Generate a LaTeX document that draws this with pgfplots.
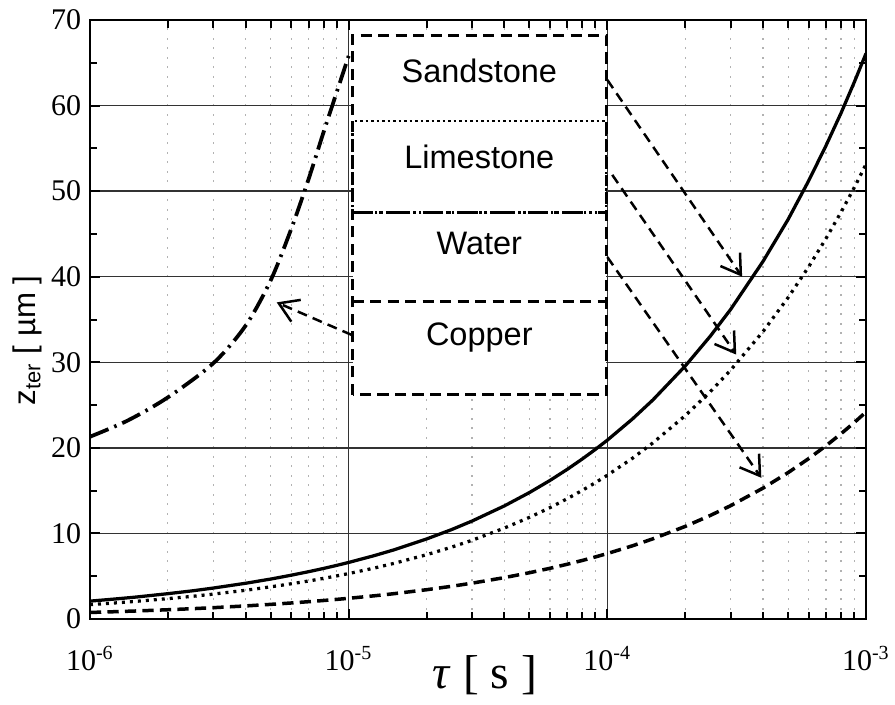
\documentclass[border=0pt]{standalone}
\usepackage{pgfplots}
\pgfplotsset{compat=1.18}
\usepackage{fontspec}
\setmainfont{Liberation Serif}
\setsansfont{Liberation Sans}
\usetikzlibrary{arrows.meta}

\begin{document}
\begin{tikzpicture}
\begin{axis}[
  scale only axis, width=310.4pt, height=239.6pt,
  xmode=log, xmin=1e-6, xmax=1e-3, ymin=0, ymax=70,
  xtick={1e-6,1e-5,1e-4,1e-3},
  xticklabels={10\textsuperscript{-6},10\textsuperscript{-5},10\textsuperscript{-4},10\textsuperscript{-3}},
  minor xtick={2e-6,3e-6,4e-6,5e-6,6e-6,7e-6,8e-6,9e-6,
               2e-5,3e-5,4e-5,5e-5,6e-5,7e-5,8e-5,9e-5,
               2e-4,3e-4,4e-4,5e-4,6e-4,7e-4,8e-4,9e-4},
  ytick={0,10,...,70}, minor ytick={5,15,...,65},
  tick align=inside, tick pos=both,
  major tick length=4pt, minor tick length=3pt,
  xmajorgrids, xminorgrids, ymajorgrids,
  major grid style={black!80, line width=0.55pt},
  minor grid style={gray!60, dash pattern=on 0.8pt off 3pt, line width=0.5pt},
  axis line style={line width=1pt},
  every tick/.style={black, line width=0.8pt},
  /pgf/number format/assume math mode=true,
  tick label style={font=\fontsize{12}{14}\selectfont},
  xticklabel style={yshift=-7.5pt},
  xlabel={\fontsize{19}{22}\selectfont\textit{τ} [ s ]},
  xlabel style={at={(axis description cs:0.509,-0.06)}, anchor=north, inner sep=0pt},
  ylabel={\sffamily\fontsize{12.5}{14}\selectfont z\textsubscript{ter} [ µm ]},
  ylabel style={at={(axis description cs:-0.0606,0.465)}, anchor=south, inner sep=0pt},
]

% Sandstone
\addplot[black, line width=1.3pt, line join=round] coordinates {
(1e-6,2.09) (1.25e-6,2.34) (1.5e-6,2.56) (2e-6,2.96) (2.5e-6,3.30) (3e-6,3.62) (4e-6,4.18) (5e-6,4.67) (6e-6,5.12) (7e-6,5.53) (8e-6,5.91) (9e-6,6.27)
(1e-5,6.61) (1.25e-5,7.39) (1.5e-5,8.09) (2e-5,9.35) (2.5e-5,10.45) (3e-5,11.45) (4e-5,13.22) (5e-5,14.78) (6e-5,16.19) (7e-5,17.49) (8e-5,18.70) (9e-5,19.83)
(1e-4,20.9) (1.25e-4,23.37) (1.5e-4,25.6) (2e-4,29.56) (2.5e-4,33.05) (3e-4,36.2) (4e-4,41.8) (5e-4,46.7) (6e-4,51.2) (7e-4,55.3) (8e-4,59.1) (9e-4,62.7)
(1e-3,66.09)
};

% Limestone
\addplot[black, line width=1.3pt, dash pattern=on 1.2pt off 2pt] coordinates {
(1e-6,1.68) (1.25e-6,1.878) (1.5e-6,2.06) (2e-6,2.38) (2.5e-6,2.656) (3e-6,2.91) (4e-6,3.36) (5e-6,3.76) (6e-6,4.12) (7e-6,4.44) (8e-6,4.75) (9e-6,5.04)
(1e-5,5.31) (1.25e-5,5.94) (1.5e-5,6.51) (2e-5,7.51) (2.5e-5,8.40) (3e-5,9.20) (4e-5,10.63) (5e-5,11.88) (6e-5,13.01) (7e-5,14.06) (8e-5,15.03) (9e-5,15.94)
(1e-4,16.8) (1.25e-4,18.78) (1.5e-4,20.58) (2e-4,23.76) (2.5e-4,26.56) (3e-4,29.10) (4e-4,33.6) (5e-4,37.57) (6e-4,41.15) (7e-4,44.45) (8e-4,47.52) (9e-4,50.4)
(1e-3,53.13)
};

% Water
\addplot[black, line width=1.5pt, dash pattern=on 8pt off 2.5pt on 1pt off 2.5pt, smooth] coordinates {
(1e-6,21.3) (1.4e-6,23.2) (2e-6,25.9) (3e-6,29.9) (4e-6,34.3) (5e-6,39.6) (6e-6,45.6) (7e-6,51.4) (8e-6,56.9) (9e-6,61.6) (1e-5,65.8)
};

% Copper
\addplot[black, line width=1.4pt, dash pattern=on 4.5pt off 2.5pt] coordinates {
(1e-6,0.765) (1.25e-6,0.855) (1.5e-6,0.937) (2e-6,1.082) (2.5e-6,1.210) (3e-6,1.325) (4e-6,1.53) (5e-6,1.711) (6e-6,1.874) (7e-6,2.024) (8e-6,2.164) (9e-6,2.295)
(1e-5,2.419) (1.25e-5,2.705) (1.5e-5,2.963) (2e-5,3.421) (2.5e-5,3.824) (3e-5,4.190) (4e-5,4.838) (5e-5,5.409) (6e-5,5.925) (7e-5,6.40) (8e-5,6.842) (9e-5,7.257)
(1e-4,7.65) (1.25e-4,8.553) (1.5e-4,9.37) (2e-4,10.82) (2.5e-4,12.10) (3e-4,13.25) (4e-4,15.3) (5e-4,17.11) (6e-4,18.74) (7e-4,20.24) (8e-4,21.64) (9e-4,22.95)
(1e-3,24.19)
};

% legend box
\fill[white] (axis cs:1.036e-5,26.2) rectangle (axis cs:9.9e-5,68.2);
\draw[line width=1pt, dash pattern=on 1pt off 1.2pt] (axis cs:1.036e-5,47.5) rectangle (axis cs:9.9e-5,58.2);
\draw[line width=1.3pt, dash pattern=on 8pt off 2.5pt on 1pt off 2.5pt] (axis cs:1.036e-5,47.5) -- (axis cs:9.9e-5,47.5);
\draw[line width=1.3pt, dash pattern=on 4.5pt off 2.5pt] (axis cs:1.036e-5,37.1) -- (axis cs:9.9e-5,37.1);
\draw[line width=1.3pt, dash pattern=on 4.5pt off 2.5pt] (axis cs:1.036e-5,26.2) rectangle (axis cs:9.9e-5,68.2);
\node[font=\sffamily\fontsize{13}{15}\selectfont] at (axis cs:3.2e-5,64.0) {Sandstone};
\node[font=\sffamily\fontsize{13}{15}\selectfont] at (axis cs:3.2e-5,54.0) {Limestone};
\node[font=\sffamily\fontsize{13}{15}\selectfont] at (axis cs:3.2e-5,43.9) {Water};
\node[font=\sffamily\fontsize{13}{15}\selectfont] at (axis cs:3.2e-5,32.9) {Copper};

% arrows
\begin{scope}[line width=1pt, dash pattern=on 4pt off 2.5pt, -{Straight Barb[length=7.5pt,width=9.5pt,line width=1pt]}]
\draw (axis cs:1e-4,63.0) -- (axis cs:3.32e-4,40.0);
\draw (axis cs:1.045e-4,51.9) -- (axis cs:3.15e-4,30.9);
\draw (axis cs:1e-4,42.3) -- (axis cs:3.94e-4,16.5);
\draw (axis cs:1.027e-5,33.2) -- (axis cs:5.27e-6,37.0);
\end{scope}
\end{axis}
\pgfresetboundingbox
\path[use as bounding box] (-36pt,-34pt) rectangle (322pt,247.6pt);
\end{tikzpicture}
\end{document}
